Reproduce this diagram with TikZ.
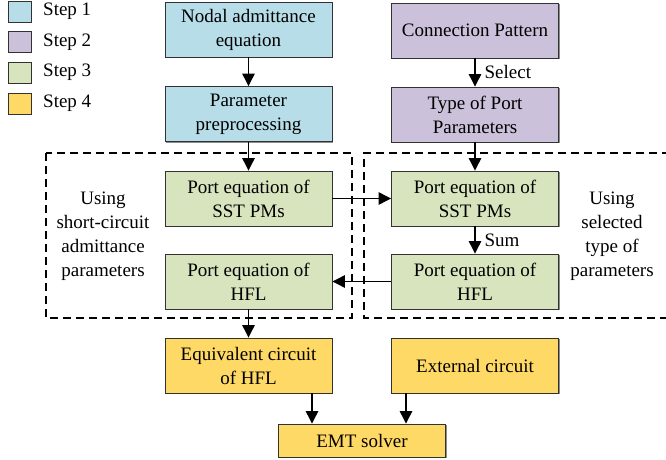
\documentclass[tikz,border=0pt]{standalone}
\usepackage{fontspec}
\setmainfont{Liberation Serif}
\newfontfamily\tnr{Liberation Serif}
\usetikzlibrary{arrows.meta,shadows}
\definecolor{cblue}{RGB}{182,221,232}
\definecolor{cpurple}{RGB}{204,193,218}
\definecolor{cgreen}{RGB}{215,228,189}
\definecolor{cgold}{RGB}{255,217,102}
\definecolor{cedge}{RGB}{50,50,50}
\tikzset{
  txt/.style={font=\tnr\fontsize{19}{24}\selectfont, align=center, inner sep=0pt},
  box/.style={txt, draw=cedge, line width=0.9pt, minimum width=167pt, minimum height=55pt,
    drop shadow={shadow xshift=1.2pt, shadow yshift=-1.2pt, opacity=0.45, fill=black}},
  legbox/.style={draw=cedge, line width=0.9pt, minimum width=23pt, minimum height=21pt, inner sep=0pt,
    drop shadow={shadow xshift=1pt, shadow yshift=-1pt, opacity=0.4, fill=black}},
  conn/.style={line width=1.2pt, -{Triangle[length=12.5pt,width=12.5pt]}},
  region/.style={line width=1.2pt, dash pattern=on 8pt off 5pt}
}
\begin{document}
\begin{tikzpicture}[x=1pt,y=-1pt]
\useasboundingbox (0,0) rectangle (666,460);
% legend
\node[legbox, fill=cblue] (l1) at (19.5,11.5) {};
\node[legbox, fill=cpurple] (l2) at (19.5,42) {};
\node[legbox, fill=cgreen] (l3) at (19.5,72.5) {};
\node[legbox, fill=cgold] (l4) at (19.5,103.5) {};
\node[txt, anchor=west] (t1) at (43,11.5) {Step 1};
\node[txt, anchor=west] (t2) at (43,42) {Step 2};
\node[txt, anchor=west] (t3) at (43,72.5) {Step 3};
\node[txt, anchor=west] (t4) at (43,103.5) {Step 4};
% dashed regions
\draw[region] (46,153) rectangle (352,318);
\draw[region] (670,153) -- (364,153) -- (364,318) -- (670,318);
% boxes
\node[box, fill=cblue] (nodal) at (248.5,29.5) {Nodal admittance\\equation};
\node[box, fill=cblue] (prep) at (248.5,114) {Parameter\\preprocessing};
\node[box, fill=cpurple] (conp) at (475,30.5) {Connection Pattern};
\node[box, fill=cpurple] (type) at (475,114.5) {Type of Port\\Parameters};
\node[box, fill=cgreen] (sstL) at (248.5,198.5) {Port equation of\\SST PMs};
\node[box, fill=cgreen] (hflL) at (248.5,281.5) {Port equation of\\HFL};
\node[box, fill=cgreen] (sstR) at (475,198.5) {Port equation of\\SST PMs};
\node[box, fill=cgreen] (hflR) at (475,281.5) {Port equation of\\HFL};
\node[box, fill=cgold] (equiv) at (248.5,365.5) {Equivalent circuit\\of HFL};
\node[box, fill=cgold] (ext) at (475,365.5) {External circuit};
\node[box, fill=cgold, minimum height=33pt] (emt) at (362,440.5) {EMT solver};
% side texts
\node[txt] (lefttxt) at (103,236) {Using\\short-circuit\\admittance\\parameters};
\node[txt] (righttxt) at (612,236) {Using\\selected\\type of\\parameters};
% connectors
\draw[conn] (nodal) -- (prep);
\draw[conn] (conp) -- node[txt, right=9pt] (sel) {Select} (type);
\draw[conn] (prep) -- (sstL);
\draw[conn] (type) -- (sstR);
\draw[conn] (sstL) -- (sstR);
\draw[conn] (sstR) -- node[txt, right=9pt] (sum) {Sum} (hflR);
\draw[conn] (hflR) -- (hflL);
\draw[conn] (hflL) -- (equiv);
\coordinate (e1) at ([xshift=-50pt]emt.north);
\coordinate (e2) at ([xshift=44pt]emt.north);
\draw[conn] (e1 |- equiv.south) -- (e1);
\draw[conn] (e2 |- ext.south) -- (e2);
\end{tikzpicture}
\end{document}
